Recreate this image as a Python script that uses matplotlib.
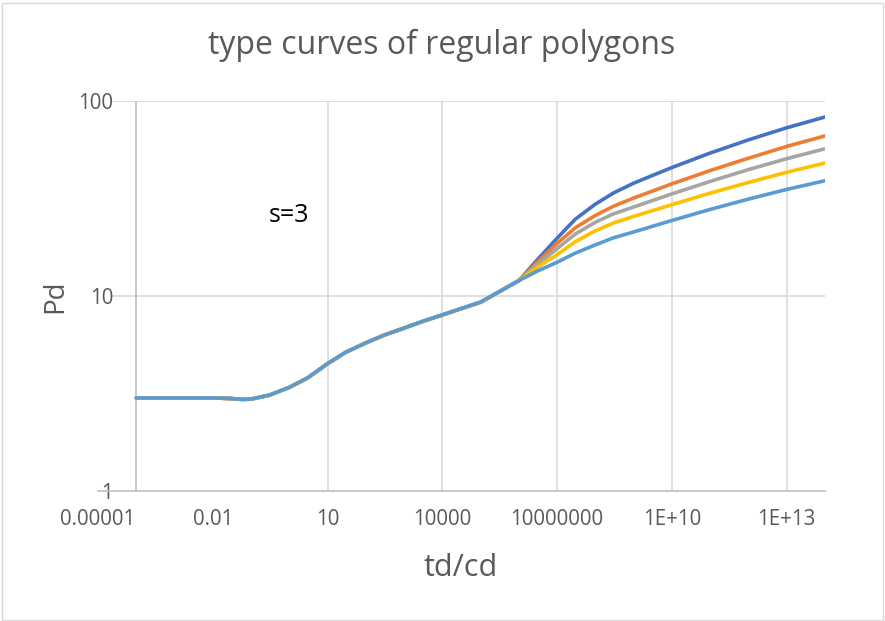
import matplotlib.pyplot as plt
from matplotlib.patches import Rectangle

plt.rcParams['font.family'] = ['Open Sans', 'DejaVu Sans']

# early time: all polygons share the same response
td_early = [1e-4, 1e-3, 1e-2, 3e-2, 6e-2, 0.1, 0.3, 1, 3, 10, 30, 100, 300,
            1e3, 3e3, 1e4, 3e4, 1e5, 3e5, 1e6]
pd_early = [3.00, 3.00, 3.00, 2.98, 2.95, 2.96, 3.10, 3.40, 3.80, 4.50, 5.15,
            5.75, 6.30, 6.85, 7.40, 8.00, 8.60, 9.30, 10.5, 12.0]

# late time: boundary effects split the curves
td_late = [3e6, 1e7, 3e7, 1e8, 3e8, 1e9, 1e10, 1e11, 1e12, 1e13, 1e14]
pd_c1 = [15.3, 19.8, 24.8, 29.6, 33.8, 37.9, 45.6, 54.1, 63.2, 72.9, 82.8]
pd_c2 = [14.9, 18.6, 22.4, 25.9, 28.9, 31.8, 37.6, 44.0, 50.9, 58.5, 66.2]
pd_c3 = [14.5, 17.5, 20.8, 23.9, 26.4, 28.6, 33.4, 38.7, 44.5, 50.6, 56.9]
pd_c4 = [14.0, 16.3, 19.0, 21.6, 23.7, 25.6, 29.4, 33.7, 38.2, 43.1, 48.1]
pd_c5 = [13.4, 14.9, 16.6, 18.3, 19.9, 21.3, 24.4, 27.8, 31.4, 35.2, 39.0]

curves = [pd_c1, pd_c2, pd_c3, pd_c4, pd_c5]
colors = ['#4472C4', '#ED7D31', '#A5A5A5', '#FFC000', '#5B9BD5']

x_ticks = [1e-5, 1e-2, 1e1, 1e4, 1e7, 1e10, 1e13]
x_labels = ['0.00001', '0.01', '10', '10000', '10000000', '1E+10', '1E+13']
y_ticks = [1, 10, 100]
y_labels = ['1', '10', '100']

W, H = 885, 621
fig = plt.figure(figsize=(W / 100, H / 100), dpi=100)
fig.patches.append(Rectangle((1.5 / W, 1.5 / H), (W - 4) / W, (H - 4) / H,
                             transform=fig.transFigure, fill=False,
                             edgecolor='#d9d9d9', lw=1))

ax = fig.add_axes([98 / W, (H - 491) / H, 727 / W, 390 / H])
ax.set_xscale('log')
ax.set_yscale('log')
ax.set_xlim(1e-5, 1e14)
ax.set_ylim(1, 100)

for s in ['top', 'right', 'left']:
    ax.spines[s].set_visible(False)
ax.spines['bottom'].set_color('#bfbfbf')
ax.spines['bottom'].set_linewidth(1.2)

# gridlines
for yv in y_ticks[1:]:
    ax.axhline(yv, xmin=15 / 727, color='#d9d9d9', lw=1.2, zorder=0)
for xv in x_ticks[2:]:
    ax.axvline(xv, color='#d9d9d9', lw=1.2, zorder=0)
# vertical axis crosses at 1e-4
ax.axvline(1e-4, color='#bfbfbf', lw=1.2, zorder=1)

for pd_late, c in zip(curves, colors):
    ax.plot(td_early + td_late, pd_early + pd_late, color=c, lw=2.6,
            solid_capstyle='round', solid_joinstyle='round', zorder=3)

ax.set_xticks(x_ticks)
ax.set_xticklabels(x_labels)
ax.set_yticks(y_ticks)
ax.set_yticklabels(y_labels)
ax.xaxis.set_minor_locator(plt.NullLocator())
ax.yaxis.set_minor_locator(plt.NullLocator())
ax.tick_params(axis='x', length=0, pad=13, labelsize=14.8, labelcolor='#595959')
ax.tick_params(axis='y', length=0, pad=-10.8, labelsize=14.8, labelcolor='#595959')

ax.text(1, 26, 's=3', ha='center', va='center', fontsize=18, color='black')

fig.text(442 / W, 1 - 45 / H, 'type curves of regular polygons', ha='center',
         va='center', fontsize=23, color='#595959')
fig.text(461 / W, 1 - 568 / H, 'td/cd', ha='center', va='center',
         fontsize=22, color='#595959')
fig.text(55 / W, 1 - 296 / H, 'Pd', ha='center', va='center', rotation=90,
         fontsize=20, color='#595959')

fig.savefig('out.png', dpi=100)
